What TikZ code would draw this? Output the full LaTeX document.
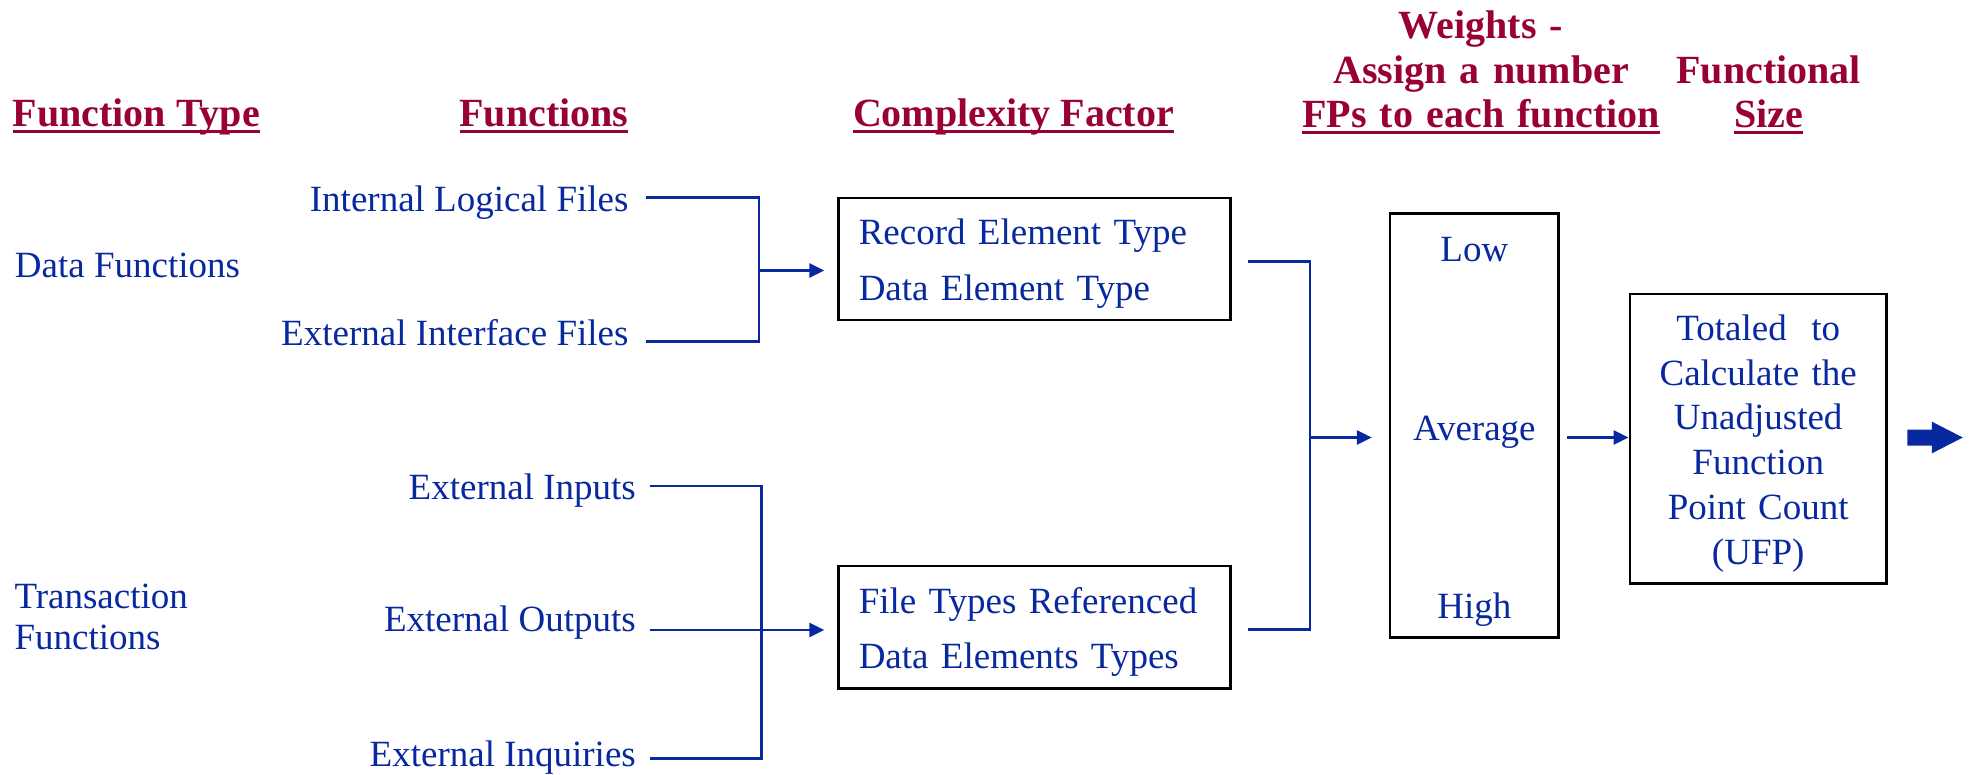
\documentclass[tikz,border=0pt]{standalone}
\usepackage{fontspec}
\setmainfont{Liberation Serif}
\usetikzlibrary{arrows.meta,calc}
\definecolor{fpblue}{RGB}{8,40,160}
\definecolor{fpred}{RGB}{153,0,51}
% heavy underline set 3.5pt below the baseline, crossing descenders
\newcommand\ulined[1]{\leavevmode\vtop{\setbox0\hbox{#1}\dp0=0pt\box0\kern3.5pt\hrule height 3pt}}
% struts that fix the first-line height and last-line depth inside the boxes
\newcommand\boxtop[1]{\rule{0pt}{#1}}
\newcommand\boxbot{\rule[-8pt]{0pt}{8pt}}
\begin{document}
\begin{tikzpicture}[x=1pt,y=-1pt,
  lbl/.style={inner sep=0pt, text=fpblue, font=\fontsize{37}{44.7}\selectfont},
  head/.style={inner sep=0pt, text=fpred, font=\bfseries\fontsize{40}{44.4}\selectfont},
  fbox/.style={draw=black, line width=2.5pt, inner ysep=0pt, text=fpblue},
  conn/.style={draw=fpblue, line width=2.5pt},
  arr/.style={conn, -{Triangle[length=15pt,width=14pt]}},
]
\useasboundingbox (0,0) rectangle (1969,774);

% column headings
\node[head, anchor=base west] (hft) at (12.5,126) {\ulined{Function Type}};
\node[head, anchor=base] (hfn) at (544,126) {\ulined{Functions}};
\node[head, anchor=base] (hcf) at (1013.5,126) {\ulined{Complexity Factor}};
\node[head, anchor=base, text width=400pt, align=center] (hwt) at (1481,38.9)
  {Weights -\\Assign a number\\\ulined{FPs to each function}};
\node[head, anchor=base, text width=220pt, align=center, font=\bfseries\fontsize{40}{43.4}\selectfont] (hfs) at (1768.6,83.9)
  {Functional\\\ulined{Size}};

% function types
\node[lbl, anchor=base west] (df) at (14.7,277.7) {Data Functions};
\node[lbl, anchor=base west, text width=220pt, align=left, font=\fontsize{37}{41}\selectfont] (tf) at (14.3,608.3)
  {Transaction\\Functions};

% functions
\node[lbl, anchor=base east] (ilf) at (628.6,211.7) {Internal Logical Files};
\node[lbl, anchor=base east] (eif) at (628.6,345) {External Interface Files};
\node[lbl, anchor=base east] (ei) at (636,499) {External Inputs};
\node[lbl, anchor=base east] (eo) at (636,631.7) {External Outputs};
\node[lbl, anchor=base east] (eq) at (636,766.7) {External Inquiries};

% complexity factors
\node[fbox, minimum width=392.3pt, minimum height=122.1pt, inner xsep=20.4pt, text width=351.5pt,
      align=left, font=\fontsize{37}{55.5}\selectfont] (cf1) at (1034.5,258.9)
  {\boxtop{35.5pt}Record Element Type\\Data Element Type\boxbot};
\node[fbox, minimum width=392.3pt, minimum height=122.5pt, inner xsep=20.4pt, text width=351.5pt,
      align=left, font=\fontsize{37}{55.5}\selectfont] (cf2) at (1034.5,627.3)
  {\boxtop{35pt}File Types Referenced\\Data Elements Types\boxbot};

% weights
\node[fbox, minimum width=168.5pt, minimum height=424pt, inner xsep=5pt, text width=158.5pt,
      align=center, font=\fontsize{37}{178.5}\selectfont] (wt) at (1474.3,425.7)
  {\boxtop{36.7pt}Low\\Average\\High\boxbot};

% functional size
\node[fbox, minimum width=256.8pt, minimum height=289.2pt, inner xsep=10pt, text width=236.8pt,
      align=center, font=\fontsize{37}{44.7}\selectfont] (ufp) at (1758.2,438.8)
  {\boxtop{35pt}Totaled~~to\\Calculate the\\Unadjusted\\Function\\Point Count\\(UFP)\boxbot};

% data functions bracket
\coordinate (j1) at (759.2,270.5);
\draw[conn] ([shift={(17.4,-14)}]ilf.base east) -| (j1) |- ([shift={(17.4,-3.3)}]eif.base east);
\draw[arr, shorten >=12.8pt] (j1) -- (cf1.west |- j1);

% transaction functions bracket
\coordinate (j2) at (761.7,630);
\draw[conn] ([shift={(13.5,-13)}]ei.base east) -| (j2) |- ([shift={(13.5,-8.4)}]eq.base east);
\draw[arr, shorten >=12.8pt] ([shift={(13.5,-1.7)}]eo.base east) -- (cf2.west |- j2);

% complexity to weights
\coordinate (j3) at (1310.2,437.5);
\draw[conn] ([shift={(15.8,2.8)}]cf1.east) -| (j3) |- ([shift={(15.8,2.2)}]cf2.east);
\draw[arr, shorten >=17pt] (j3) -- (wt.west |- j3);
\draw[arr] ($(wt.east |- j3)+(7.5,0)$) -- (ufp.west |- j3);

% block arrow leaving the total
\coordinate (fa) at ($(ufp.east |- j3)+(19.4,0)$);
\fill[fpblue] (fa) ++(0,-8) -- ++(24.7,0) -- ++(0,-7.8) -- ++(30.8,15.8) -- ++(-30.8,15.8)
  -- ++(0,-7.8) -- ++(-24.7,0) -- cycle;
\end{tikzpicture}
\end{document}
